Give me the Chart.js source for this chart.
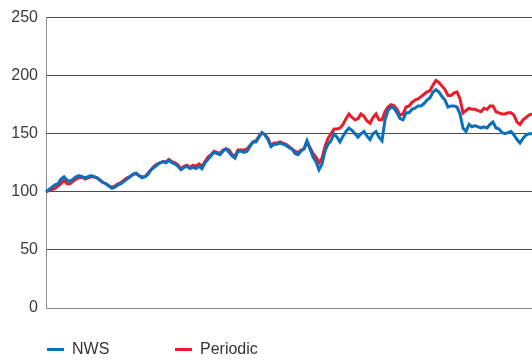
<!DOCTYPE html>
<html>
<head>
<meta charset="utf-8">
<script src="https://cdn.jsdelivr.net/npm/chart.js@4/dist/chart.umd.min.js"></script>
<style>
  html, body { margin: 0; padding: 0; background: #fff; }
  #wrap { position: relative; width: 532px; height: 361px; }
  #legend {
    position: absolute; left: 47px; top: 339px;
    font-family: "Liberation Sans", Arial, sans-serif; font-size: 16px; color: #333;
  }
  .item { position: absolute; top: 0; white-space: nowrap; line-height: 20px; }
  .item i { display: inline-block; width: 17px; height: 3px; vertical-align: middle; margin-right: 8px; }
</style>
</head>
<body>
<div id="wrap">
  <canvas id="chart" width="532" height="361"></canvas>
  <div id="legend"></div>
</div>
<script>
  // tick labels on the value axis
  var yTicks = [0, 50, 100, 150, 200, 250];

  // two indexed series, one reading per step along the period
  var nws = [
    100, 102, 104, 106, 107, 111, 113, 110, 109, 111, 113, 114, 113, 112, 113, 114, 113, 112, 110, 108,
    107, 105, 103, 104, 106, 107, 109, 111, 113, 115, 116, 114, 112, 113, 115, 119, 121, 123, 125, 126,
    125, 127, 125, 124, 122, 119, 121, 122, 120, 121, 120, 122, 120, 125, 128, 131, 134, 133, 132, 135,
    137, 134, 131, 129, 135, 135, 134, 135, 139, 143, 143, 147, 151, 149, 145, 139, 141, 141, 142, 141,
    140, 138, 137, 133, 132, 135, 137, 144, 137, 130, 126, 119, 124, 135, 141, 144, 150, 147, 143, 148,
    152, 155, 153, 150, 147, 150, 152, 148, 145, 150, 152, 147, 144, 162, 170, 173, 172, 168, 163, 162,
    168, 168, 171, 172, 174, 174, 176, 179, 181, 186, 188, 186, 182, 179, 173, 174, 174, 173, 167, 155,
    152, 158, 156, 157, 156, 155, 156, 155, 158, 160, 155, 154, 151, 150, 151, 152, 149, 145, 142, 146,
    149, 150, 150
  ];
  var periodic = [
    100, 101, 102, 103, 105, 107, 110, 107, 107, 109, 111, 112, 113, 111, 112, 113, 113, 112, 110, 108,
    107, 105, 104, 105, 107, 108, 110, 112, 113, 115, 116, 114, 113, 113, 116, 119, 122, 124, 125, 126,
    126, 128, 126, 125, 123, 120, 122, 123, 121, 123, 122, 124, 122, 126, 130, 132, 135, 134, 133, 136,
    137, 136, 132, 131, 136, 136, 136, 137, 140, 143, 144, 148, 151, 149, 146, 140, 142, 142, 143, 142,
    141, 139, 137, 135, 134, 136, 137, 143, 138, 133, 130, 125, 129, 139, 146, 150, 154, 154, 155, 158,
    163, 167, 164, 162, 163, 167, 165, 161, 159, 164, 167, 162, 162, 169, 173, 175, 174, 171, 166, 167,
    173, 174, 177, 179, 180, 182, 184, 186, 187, 192, 196, 194, 191, 188, 183, 183, 185, 186, 180, 168,
    170, 172, 171, 171, 170, 169, 172, 171, 174, 174, 169, 168, 167, 167, 168, 168, 166, 160, 158, 162,
    164, 166, 167
  ];

  var labels = nws.map(function (v, i) { return i; });

  var seriesNames = ['NWS', 'Periodic'];
  var seriesColors = ['#0b70bb', '#ea1c2a'];

  var legend = document.getElementById('legend');
  var legendX = [0, 128];
  seriesNames.forEach(function (name, i) {
    var el = document.createElement('span');
    el.className = 'item';
    el.style.left = legendX[i] + 'px';
    el.innerHTML = '<i style="background:' + seriesColors[i] + '"></i>' + name;
    legend.appendChild(el);
  });

  var ctx = document.getElementById('chart').getContext('2d');
  new Chart(ctx, {
    type: 'line',
    data: {
      labels: labels,
      datasets: [
        { label: seriesNames[0], data: nws, borderColor: seriesColors[0], borderWidth: 3, pointRadius: 0, tension: 0 },
        { label: seriesNames[1], data: periodic, borderColor: seriesColors[1], borderWidth: 3, pointRadius: 0, tension: 0 }
      ]
    },
    options: {
      responsive: false,
      animation: false,
      layout: { padding: { top: 16, right: 0, bottom: 45, left: 0 } },
      plugins: { legend: { display: false }, tooltip: { enabled: false } },
      scales: {
        x: {
          offset: false,
          ticks: { display: false },
          grid: { display: false },
          border: { display: true, color: '#8c8c8c', width: 1 }
        },
        y: {
          min: 0,
          max: 250,
          afterBuildTicks: function (s) { s.ticks = yTicks.map(function (v) { return { value: v }; }); },
          afterFit: function (s) { s.width = 46; },
          ticks: {
            padding: 8,
            color: '#3a3a3a',
            font: { family: '"Liberation Sans", Arial, sans-serif', size: 16 }
          },
          grid: {
            drawTicks: false,
            color: function (c) { return c.tick && c.tick.value === 0 ? '#8c8c8c' : '#4a4a4a'; },
            lineWidth: 1
          },
          border: { display: true, color: '#8c8c8c', width: 1 }
        }
      }
    }
  });
</script>
</body>
</html>
